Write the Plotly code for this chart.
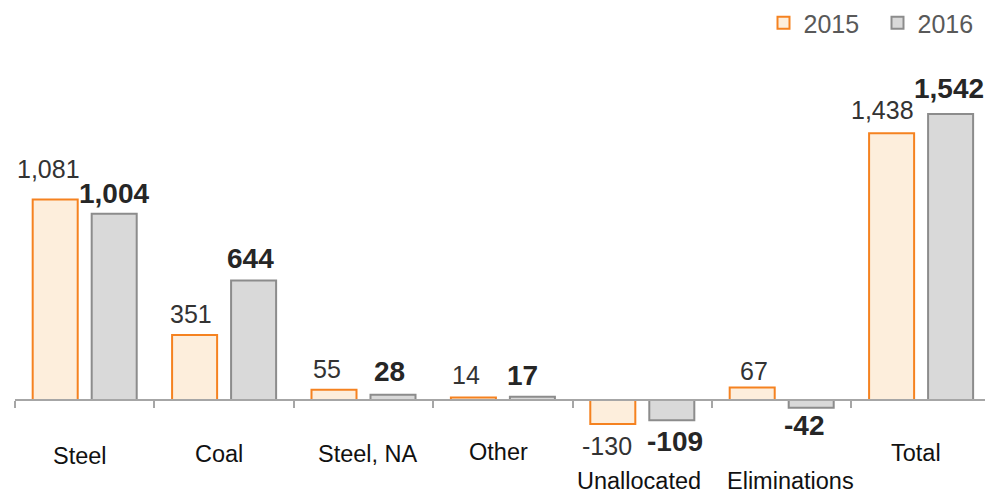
import plotly.graph_objects as go

categories = ["Steel", "Coal", "Steel, NA", "Other", "Unallocated", "Eliminations", "Total"]
values_2015 = [1081, 351, 55, 14, -130, 67, 1438]
values_2016 = [1004, 644, 28, 17, -109, -42, 1542]
series_names = ["2015", "2016"]

# label placement tweaks (pixels)
shift_2015 = [(-7, 30), (-4, 21), (-7, 21), (-7, 22), (-6, -22), (2, 16.5), (-9, 23.5)]
shift_2016 = [(0, 20), (-3, 22), (-4, 23), (-10, 21), (3.5, -21), (-7.5, -18), (-1.5, 25)]
cat_label_shift = [(-4.7, -56), (-5, -54), (4.5, -53.5), (-4, -51.5), (-3, -81), (9, -81), (-5, -52.5)]

FONT = "Liberation Sans, Arial, sans-serif"
BARGAP = 0.1535
GROUPGAP = 0.237
half_slot = (1 - BARGAP) / 4

fig = go.Figure()
fig.add_trace(go.Bar(
    x=categories, y=values_2015, name=series_names[0],
    marker=dict(color="#FDEEDC", line=dict(color="#F58220", width=2)),
))
fig.add_trace(go.Bar(
    x=categories, y=values_2016, name=series_names[1],
    marker=dict(color="#D9D9D9", line=dict(color="#8C8C8C", width=2)),
))

annotations = []
for i, (v, (dx, dy)) in enumerate(zip(values_2015, shift_2015)):
    annotations.append(dict(
        x=i - half_slot, y=v, xref="x", yref="y", text=f"{v:,}",
        showarrow=False, xanchor="center", yanchor="middle",
        xshift=dx, yshift=dy,
        font=dict(family=FONT, size=25, color="#333333"),
    ))
for i, (v, (dx, dy)) in enumerate(zip(values_2016, shift_2016)):
    annotations.append(dict(
        x=i + half_slot, y=v, xref="x", yref="y", text=f"<b>{v:,}</b>",
        showarrow=False, xanchor="center", yanchor="middle",
        xshift=dx, yshift=dy,
        font=dict(family=FONT, size=28, color="#262626"),
    ))
for i, (c, (dx, dy)) in enumerate(zip(categories, cat_label_shift)):
    annotations.append(dict(
        x=i, y=0, xref="x", yref="y", text=c,
        showarrow=False, xanchor="center", yanchor="middle",
        xshift=dx, yshift=dy,
        font=dict(family=FONT, size=23.5, color="#111111"),
    ))

H = 494
W = 985
zero_px = 400
scale = 0.1855
y_top = zero_px / scale
y_bot = -(H - zero_px) / scale

fig.update_layout(
    width=W, height=H,
    margin=dict(l=15, r=0, t=0, b=0, autoexpand=False),
    paper_bgcolor="white", plot_bgcolor="white",
    barmode="group", bargap=BARGAP, bargroupgap=GROUPGAP,
    font=dict(family=FONT),
    showlegend=True,
    legend=dict(
        orientation="h", x=(763.5 - 15) / 970, xanchor="left", y=1.0, yanchor="top",
        font=dict(family=FONT, size=25, color="#595959"),
        bgcolor="rgba(0,0,0,0)", itemwidth=30, traceorder="normal",
        entrywidth=69, entrywidthmode="pixels",
    ),
    xaxis=dict(
        type="category", range=[-0.5, -0.5 + 970 / 139.4],
        showticklabels=False, showgrid=False, zeroline=False,
        showline=True, linecolor="#A6A6A6", linewidth=1.5,
        ticks="outside", tickson="boundaries", ticklen=7,
        tickcolor="#A6A6A6", tickwidth=1.5,
        anchor="free", position=1 - zero_px / H,
    ),
    yaxis=dict(
        range=[y_bot, y_top], visible=False, showgrid=False, zeroline=False,
    ),
    annotations=annotations,
)

fig.write_html("out.html")
